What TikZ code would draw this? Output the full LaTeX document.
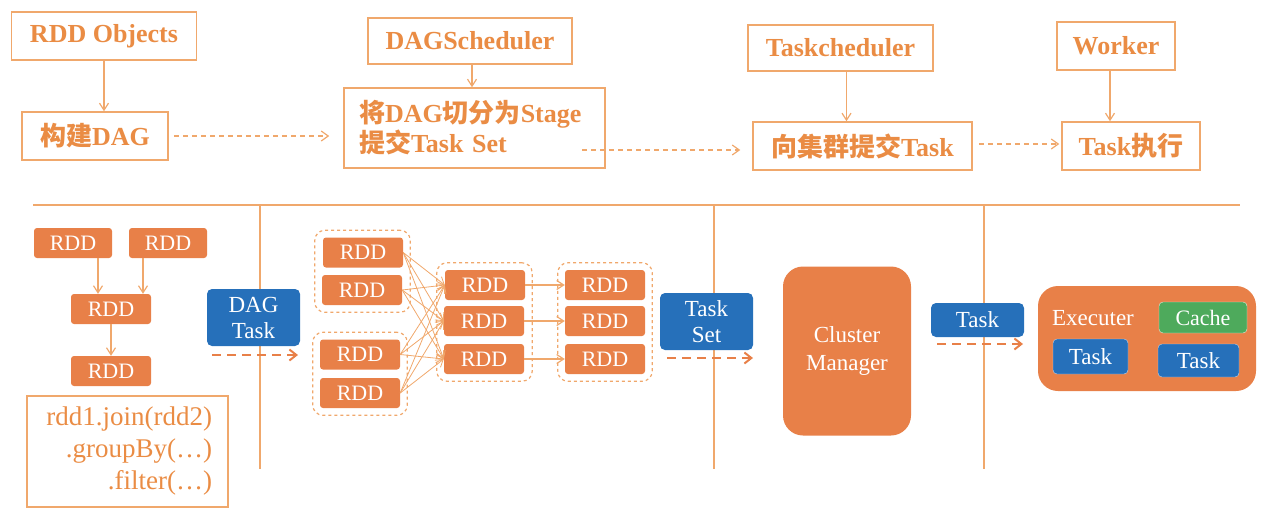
\documentclass[tikz,border=0pt]{standalone}
\usepackage{fontspec}
\setmainfont{Liberation Serif}
\newfontfamily\cjk{Noto Sans CJK SC Bold}
\usetikzlibrary{arrows.meta,fit}
\definecolor{lineor}{RGB}{240,168,108}
\definecolor{textor}{RGB}{234,140,68}
\definecolor{rddor}{RGB}{232,128,72}
\definecolor{taskblue}{RGB}{38,112,186}
\definecolor{cachegreen}{RGB}{78,170,92}

\begin{document}
\begin{tikzpicture}[x=1pt,y=-1pt,
  topbox/.style={draw=lineor, line width=1.5pt, fill=white, text=textor, inner sep=0pt,
    font=\fontsize{26}{30}\selectfont\bfseries},
  rdd/.style={fill=rddor, rounded corners=3pt, text=white, inner sep=0pt,
    minimum width=80pt, minimum height=30pt, font=\fontsize{22}{26}\selectfont},
  bluebox/.style={fill=taskblue, rounded corners=5pt, text=white, inner sep=0pt, align=center,
    font=\fontsize{23}{26}\selectfont},
  stage/.style={draw=lineor, dashed, line width=1.2pt, rounded corners=10pt, inner sep=7pt},
  arr/.style={draw=lineor, line width=1.2pt, -{Straight Barb[length=7pt,width=9pt]}},
  toparr/.style={draw=lineor, line width=1.2pt, dash pattern=on 5pt off 4pt, -{Straight Barb[length=7pt,width=10pt]}},
  botarr/.style={draw=rddor, line width=2pt, dash pattern=on 9pt off 6pt, -{Straight Barb[length=7pt,width=11pt]}},
  sep/.style={draw=lineor, line width=1.3pt}]
  \useasboundingbox (0,0) rectangle (1270,520);

% top row
  \node (obj) [topbox, minimum width=185pt, minimum height=48pt] at (104,36) {RDD Objects};
  \node (build) [topbox, minimum width=146pt, minimum height=48pt] at (95,136) {{\cjk 构建}DAG};
  \node (dags) [topbox, minimum width=204pt, minimum height=46pt] at (470,41) {DAGScheduler};
  \node (split) [topbox, minimum width=261pt, minimum height=80pt, align=left, text width=231pt, inner xsep=15pt]
    at (474.5,128) {{\cjk 将}DAG{\cjk 切分为}Stage\\{\cjk 提交}Task Set};
  \node (tsch) [topbox, minimum width=185pt, minimum height=46pt] at (840.5,48) {Taskcheduler};
  \node (submit) [topbox, minimum width=219pt, minimum height=48pt] at (862.5,146) {{\cjk 向集群提交}Task};
  \node (worker) [topbox, minimum width=118pt, minimum height=48pt] at (1116,46) {Worker};
  \node (run) [topbox, minimum width=138pt, minimum height=48pt] at (1131,146) {Task{\cjk 执行}};

  \draw [arr] (obj.south) -- (obj.south |- build.north);
  \draw [arr] ([xshift=2pt]dags.south) -- ([xshift=2pt]dags.south |- split.north);
  \draw [arr] ([xshift=6pt]tsch.south) -- ([xshift=6pt]tsch.south |- submit.north);
  \draw [arr] ([xshift=-6pt]worker.south) -- ([xshift=-6pt]worker.south |- run.north);

  \draw [toparr, shorten <=5pt, shorten >=14pt] (build.east) -- (split.west |- build.east);
  \coordinate (sp1) at (582,150);
  \draw [toparr, shorten >=12pt] (sp1) -- (submit.west |- sp1);
  \draw [toparr, shorten <=6pt, shorten >=2pt] ([yshift=2pt]submit.east) -- ([yshift=2pt]run.west);

% separators
  \draw [sep] (33,205) -- (1240,205);
  \draw [sep] (260,205) -- (260,469);
  \draw [sep] (714,205) -- (714,469);
  \draw [sep] (984,205) -- (984,469);

% bottom left
  \node (r1) [rdd, minimum width=78pt] at (73,243) {RDD};
  \node (r2) [rdd, minimum width=78pt] at (168,243) {RDD};
  \node (r3) [rdd] at (111,309) {RDD};
  \node (r4) [rdd] at (111,371) {RDD};
  \draw [arr] ([xshift=25pt]r1.south) -- ([xshift=25pt]r1.south |- r3.north);
  \draw [arr] ([xshift=-25pt]r2.south) -- ([xshift=-25pt]r2.south |- r3.north);
  \draw [arr] (r3) -- (r4);
  \node (code) [draw=lineor, line width=1.3pt, text=textor, align=right, minimum width=201pt, minimum height=111pt,
    text width=169pt, inner xsep=16pt, font=\fontsize{27}{32}\selectfont] at (127.5,451.5)
    {rdd1.join(rdd2)\\.groupBy(\ldots)\\.filter(\ldots)};

  \node (dag) [bluebox, minimum width=93pt, minimum height=57pt] at (253.5,317.5) {DAG\\Task};
  \coordinate (da1) at (212,355);
  \coordinate (da2) at (298,355);
  \draw [botarr] (da1) -- (da2);

% stages
  \node (a1) [rdd] at (363,252.5) {RDD};
  \node (a2) [rdd] at (362,290) {RDD};
  \node (b1) [rdd] at (360,354.5) {RDD};
  \node (b2) [rdd] at (360,393) {RDD};
  \node (c1) [rdd] at (485,285) {RDD};
  \node (c2) [rdd] at (484,321) {RDD};
  \node (c3) [rdd] at (484,359) {RDD};
  \node (d1) [rdd] at (605,285) {RDD};
  \node (d2) [rdd] at (605,321) {RDD};
  \node (d3) [rdd] at (605,359) {RDD};
  \node (ga) [stage, fit=(a1)(a2)] {};
  \node (gb) [stage, fit=(b1)(b2)] {};
  \node (gc) [stage, fit=(c1)(c3)] {};
  \node (gd) [stage, fit=(d1)(d3)] {};
  \foreach \s in {a1,a2,b1,b2}
    \foreach \t in {c1,c2,c3}
      \draw [arr, line width=0.8pt] (\s.east) -- (\t.west);
  \draw [arr] (c1) -- (d1);
  \draw [arr] (c2) -- (d2);
  \draw [arr] (c3) -- (d3);

  \node (tset) [bluebox, minimum width=93pt, minimum height=57pt] at (706.5,321.5) {Task\\Set};
  \coordinate (ts1) at (667,358);
  \coordinate (ts2) at (753,358);
  \draw [botarr] (ts1) -- (ts2);

% cluster and executer
  \node (cm) [fill=rddor, rounded corners=20pt, text=white, align=center, minimum width=128pt, minimum height=169pt,
    inner sep=0pt, font=\fontsize{23}{28}\selectfont] at (847,351) {Cluster\\Manager};
  \node (task) [bluebox, minimum width=93pt, minimum height=34pt] at (977.5,320) {Task};
  \coordinate (tk1) at (937,344);
  \coordinate (tk2) at (1023,344);
  \draw [botarr] (tk1) -- (tk2);

  \node (ex) [fill=rddor, rounded corners=20pt, minimum width=218pt, minimum height=105pt] at (1147,338.5) {};
  \node (exl) [text=white, font=\fontsize{23}{28}\selectfont] at (1093,318) {Executer};
  \node (cache) [fill=cachegreen, draw=white!80!cachegreen, rounded corners=4pt, text=white, inner sep=0pt,
    minimum width=88pt, minimum height=31pt, font=\fontsize{22}{26}\selectfont] at (1203,317.5) {Cache};
  \node (t1) [bluebox, draw=white!70!taskblue, rounded corners=4pt, minimum width=75pt, minimum height=35pt] at (1090.5,356.5) {Task};
  \node (t2) [bluebox, draw=white!70!taskblue, rounded corners=4pt, minimum width=81pt, minimum height=33pt] at (1198.5,360.5) {Task};
\end{tikzpicture}
\end{document}
